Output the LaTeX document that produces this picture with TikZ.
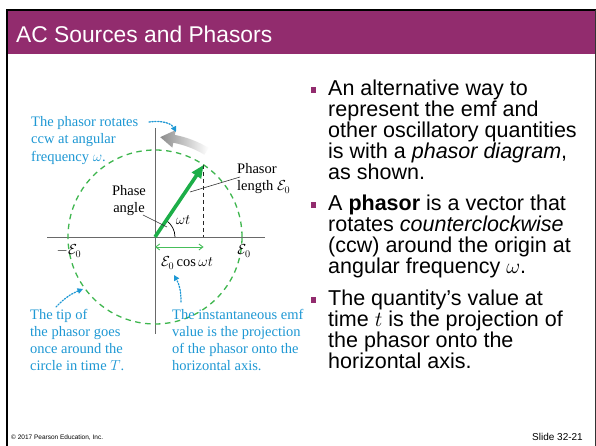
\RequirePackage{fix-cm}
\documentclass[tikz,border=0pt]{standalone}
\usepackage{fontspec}
\setmainfont{Liberation Serif}
\newfontfamily\arialf{Liberation Sans}
\usetikzlibrary{arrows.meta}
\definecolor{slidepurple}{RGB}{146,44,110}
\definecolor{annblue}{RGB}{30,152,212}
\definecolor{phgreen}{RGB}{28,174,72}
\definecolor{circgreen}{RGB}{62,182,78}
\definecolor{projgreen}{RGB}{70,190,90}
\definecolor{axisgray}{RGB}{105,105,105}
\begin{document}
\begin{tikzpicture}[x=1pt,y=1pt,
  ann/.style={text=annblue, font=\fontsize{14.5}{17}\selectfont, inner sep=0pt, anchor=base west},
  lab/.style={font=\fontsize{14.5}{17.5}\selectfont, inner sep=0pt},
  body/.style={font=\arialf\fontsize{21.5}{23}\selectfont, inner sep=0pt, anchor=base west},
  bulletsq/.style={fill=slidepurple, minimum size=5.5pt, inner sep=0pt},
  dotarrow/.style={annblue, line width=1.3pt, dash pattern=on 1.3pt off 1.6pt, line cap=round, -{Triangle[length=5.5pt,width=5.5pt]}},
  leader/.style={black!80, line width=0.6pt}
]
\useasboundingbox (0,0) rectangle (596,446);
\fill[white] (0,0) rectangle (596,446);
% slide frame and title bar
\fill[slidepurple] (7,392) rectangle (595,435);
\draw[black, line width=2pt] (7,0) -- (7,435.5) -- (595.5,435.5);
\draw[black!80, line width=0.9pt] (595.3,435.5) -- (595.3,0);
\node[anchor=base west, text=white, font=\arialf\fontsize{22.8}{26}\selectfont, inner sep=0pt] (title) at (16,403.5) {AC Sources and Phasors};
% footer
\node[anchor=base west, font=\arialf\fontsize{6.5}{8}\selectfont, inner sep=0pt] (copy) at (11,6.5) {\textcopyright\ 2017 Pearson Education, Inc.};
\node[anchor=base east, font=\arialf\fontsize{10}{12}\selectfont, inner sep=0pt] (slnum) at (583,5.5) {Slide 32-21};

% ---------------- phasor diagram ----------------
\coordinate (O) at (155,209);
\coordinate (tip) at (203.65,281.13);
\coordinate (foot) at (203.65,209);
\coordinate (hl) at (47,209);
\coordinate (hr) at (265,209);
\coordinate (vt) at (155,318);
\coordinate (vb) at (155,112);
% rotation arrow (gray, fading)
\begin{scope}[shift={(155,209)}]
\shade[left color=black!45, right color=white]
  (59:96) arc[start angle=59, end angle=79, radius=96] -- (79:91) -- (87:100) -- (79:109) -- (79:104)
  arc[start angle=79, end angle=59, radius=104] -- cycle;
\end{scope}
% axes
\draw[axisgray, line width=0.9pt] (hl) -- (hr);
\draw[axisgray, line width=0.9pt] (vt) -- (vb);
% circle
\draw[circgreen, line width=1.3pt, dash pattern=on 5.5pt off 4.5pt] (O) circle[radius=87];
% projection
\draw[black!85, line width=0.9pt, dash pattern=on 4pt off 3pt] (tip) -- (foot);
\coordinate (pa) at (155,199);
\coordinate (pb) at (203.65,199);
\draw[projgreen, line width=0.9pt, {Straight Barb[length=4pt,width=6pt]}-{Straight Barb[length=4pt,width=6pt]}] (pa) -- (pb);
% angle arc
\draw[black, line width=0.7pt] (175,209) arc[start angle=0, end angle=56, radius=20];
% phasor
\draw[phgreen, line width=3.6pt, -{Triangle[length=13pt,width=10.5pt]}] (O) -- (tip);

% labels
\node[lab, anchor=base] (wt) at (183,221) {$\omega t$};
\node[lab, anchor=base] (ph1) at (129,250) {Phase};
\node[lab, anchor=base] (ph2) at (129,233) {angle};
\coordinate (phl1) at (143,231);
\coordinate (phl2) at (167,219);
\draw[leader] (phl1) -- (phl2);
\node[lab, anchor=base west] (pl1) at (237,272.5) {Phasor};
\node[lab, anchor=base west] (pl2) at (237,255) {length $\mathcal{E}_0$};
\coordinate (pll1) at (240,269);
\coordinate (pll2) at (190,254);
\draw[leader] (pll1) -- (pll2);
\node[lab] (me0) at (69,195) {$-\mathcal{E}_0$};
\node[lab] (pe0) at (244,195) {$\mathcal{E}_0$};
\node[lab] (ecos) at (187,183) {$\mathcal{E}_0\cos\omega t$};

% blue annotations
\node[ann] (r1) at (31,319.7) {The phasor rotates};
\node[ann] (r2) at (31,302.7) {ccw at angular};
\node[ann] (r3) at (31,284.7) {frequency $\omega$.};
\coordinate (a1s) at (149,324);
\coordinate (a1e) at (176,314);
\draw[dotarrow] (a1s) .. controls (163,326) and (172,322) .. (a1e);

\node[ann] (t1) at (30,126.7) {The tip of};
\node[ann] (t2) at (30,109.7) {the phasor goes};
\node[ann] (t3) at (30,92.7) {once around the};
\node[ann] (t4) at (30,75.7) {circle in time $T$.};
\coordinate (a2s) at (56,139);
\coordinate (a2e) at (83,157);
\draw[dotarrow] (a2s) to[bend left=12] (a2e);

\node[ann] (i1) at (172,126.7) {The instantaneous emf};
\node[ann] (i2) at (172,109.7) {value is the projection};
\node[ann] (i3) at (172,92.7) {of the phasor onto the};
\node[ann] (i4) at (172,75.7) {horizontal axis.};
\coordinate (a3s) at (181,144);
\coordinate (a3e) at (174,171);
\draw[dotarrow] (a3s) to[bend right=15] (a3e);

% ---------------- bullet text ----------------
\node[bulletsq] (b1) at (313.5,356) {};
\node[bulletsq] (b2) at (313.5,241) {};
\node[bulletsq] (b3) at (313.5,146) {};
\node[body] (l1) at (328,350.4) {An alternative way to};
\node[body] (l2) at (328,329.4) {represent the emf and};
\node[body] (l3) at (328,308.4) {other oscillatory quantities};
\node[body] (l4) at (328,287.4) {is with a \textit{phasor diagram},};
\node[body] (l5) at (328,266.4) {as shown.};
\node[body] (l6) at (328,235.4) {A \textbf{phasor} is a vector that};
\node[body] (l7) at (328,214.4) {rotates \textit{counterclockwise}};
\node[body] (l8) at (328,193.4) {(ccw) around the origin at};
\node[body] (l9) at (328,172.4) {angular frequency $\omega$.};
\node[body] (l10) at (328,140.4) {The quantity’s value at};
\node[body] (l11) at (328,119.4) {time $t$ is the projection of};
\node[body] (l12) at (328,98.4) {the phasor onto the};
\node[body] (l13) at (328,77.4) {horizontal axis.};
\end{tikzpicture}
\end{document}
